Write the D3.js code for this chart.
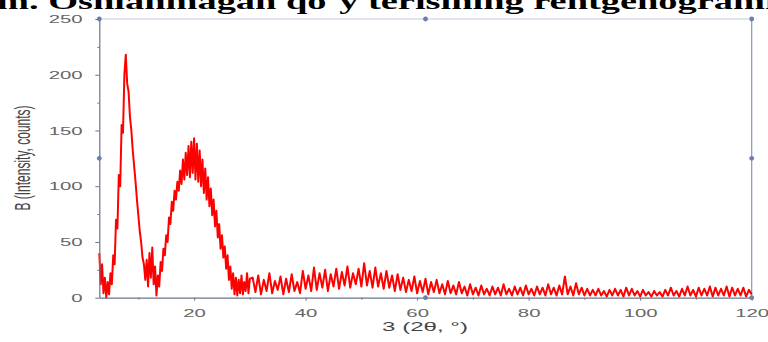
<!DOCTYPE html>
<html>
<head>
<meta charset="utf-8">
<script src="https://cdn.jsdelivr.net/npm/d3@7"></script>
<style>
  body { margin: 0; background: #fff; }
  svg { display: block; }
</style>
</head>
<body>
<svg id="chart" width="768" height="342"></svg>
<script>
// XRD pattern (2-theta in degrees, intensity in counts)
const peakAngles = [
  3, 3.25, 3.5, 3.75, 4, 4.25, 4.5, 4.75, 5, 5.25, 5.5, 5.75, 6, 6.25, 6.5, 6.75,
  7, 7.25, 7.5, 7.75, 8, 8.25, 8.5, 8.75, 9, 9.25, 9.5, 9.75, 10, 10.25, 10.5, 10.75,
  11, 11.25, 11.5, 11.75, 12, 12.25, 12.5, 12.75, 13, 13.25, 13.5, 13.75, 14, 14.25, 14.5, 14.75,
  15, 15.25, 15.5, 15.75, 16, 16.25, 16.5, 16.75, 17, 17.25, 17.5, 17.75, 18, 18.25, 18.5, 18.75,
  19, 19.25, 19.5, 19.75, 20, 20.25, 20.5, 20.75, 21, 21.25, 21.5, 21.75, 22, 22.25, 22.5, 22.75,
  23, 23.25, 23.5, 23.75, 24, 24.25, 24.5, 24.75, 25, 25.25, 25.5, 25.75, 26, 26.25, 26.5, 26.75,
  27, 27.25, 27.5, 27.75, 28, 28.25, 28.5, 28.75, 29, 29.25, 29.5, 29.75, 30
];
const peakCounts = [
  40, 12, 30, 4, 18, 0, 14, 3, 22, 12, 38, 30, 70, 62, 110, 100,
  155, 148, 200, 218, 192, 185, 162, 150, 132, 118, 104, 88, 74, 60, 50, 36,
  30, 16, 34, 10, 40, 18, 45, 12, 28, 2, 20, 10, 32, 24, 44, 38,
  56, 50, 72, 66, 86, 78, 96, 88, 104, 96, 114, 102, 124, 106, 130, 110,
  136, 108, 140, 112, 143, 106, 138, 104, 132, 100, 124, 94, 116, 88, 108, 82,
  98, 74, 88, 64, 78, 54, 66, 44, 56, 36, 46, 26, 38, 16, 28, 8,
  22, 3, 18, 2, 16, 4, 20, 3, 14, 6, 22, 4, 17
];
const tailAngles = [
  30.5, 31, 31.5, 32, 32.5, 33, 33.5, 34, 34.5, 35, 35.5, 36, 36.5, 37, 37.5, 38, 38.5, 39, 39.5, 40,
  40.5, 41, 41.5, 42, 42.5, 43, 43.5, 44, 44.5, 45, 45.5, 46, 46.5, 47, 47.5, 48, 48.5, 49, 49.5, 50,
  50.5, 51, 51.5, 52, 52.5, 53, 53.5, 54, 54.5, 55, 55.5, 56, 56.5, 57, 57.5, 58, 58.5, 59, 59.5, 60,
  60.5, 61, 61.5, 62, 62.5, 63, 63.5, 64, 64.5, 65, 65.5, 66, 66.5, 67, 67.5, 68, 68.5, 69, 69.5, 70,
  70.5, 71, 71.5, 72, 72.5, 73, 73.5, 74, 74.5, 75, 75.5, 76, 76.5, 77, 77.5, 78, 78.5, 79, 79.5, 80,
  80.5, 81, 81.5, 82, 82.5, 83, 83.5, 84, 84.5, 85, 85.5, 86, 86.5, 87, 87.5, 88, 88.5, 89, 89.5, 90,
  90.5, 91, 91.5, 92, 92.5, 93, 93.5, 94, 94.5, 95, 95.5, 96, 96.5, 97, 97.5, 98, 98.5, 99, 99.5, 100,
  100.5, 101, 101.5, 102, 102.5, 103, 103.5, 104, 104.5, 105, 105.5, 106, 106.5, 107, 107.5, 108, 108.5, 109, 109.5, 110,
  110.5, 111, 111.5, 112, 112.5, 113, 113.5, 114, 114.5, 115, 115.5, 116, 116.5, 117, 117.5, 118, 118.5, 119, 119.5, 120
];
const tailCounts = [
  18, 5, 20, 3, 16, 6, 22, 4, 15, 7, 19, 3, 17, 5, 21, 6, 14, 4, 24, 8,
  20, 6, 27, 7, 22, 9, 25, 6, 21, 10, 26, 8, 23, 11, 28, 9, 22, 12, 26, 10,
  31, 11, 24, 9, 27, 10, 22, 8, 24, 9, 20, 6, 21, 7, 18, 5, 16, 6, 19, 4,
  15, 5, 17, 3, 14, 5, 16, 4, 12, 3, 15, 4, 11, 3, 14, 4, 10, 2, 12, 3,
  9, 2, 11, 3, 8, 2, 10, 3, 9, 2, 12, 3, 8, 2, 10, 3, 9, 2, 11, 3,
  8, 2, 10, 3, 9, 2, 12, 3, 9, 2, 11, 3, 19, 3, 10, 2, 13, 3, 9, 2,
  8, 2, 7, 2, 8, 2, 6, 1, 7, 2, 8, 2, 7, 1, 9, 2, 8, 2, 6, 1,
  7, 2, 5, 1, 6, 2, 5, 1, 7, 2, 9, 2, 6, 1, 8, 2, 10, 2, 7, 1,
  9, 2, 8, 2, 10, 1, 9, 2, 8, 2, 10, 1, 9, 2, 8, 2, 9, 1, 7, 3
];

const xTicks = [20, 40, 60, 80, 100, 120];
const xMinor = [10, 30, 50, 70, 90, 110];
const yTicks = [0, 50, 100, 150, 200, 250];
const yMinor = [25, 75, 125, 175, 225];

const titleText = 'm. Oshlanmagan qo`y terisining rentgenogrammasi';
const xLabel = '3 (2θ, °)';
const yLabel = 'B (Intensity, counts)';

const stretch = 1.85; // picture is squashed sideways, text looks wide

const svg = d3.select('#chart');
const x = d3.scaleLinear().domain([3, 120]).range([99.3, 751.7]);
const y = d3.scaleLinear().domain([0, 250]).range([297.7, 19]);

const points = peakAngles.map((a, i) => [a, peakCounts[i]])
  .concat(tailAngles.map((a, i) => [a, tailCounts[i]]));

// title cut off at the top
svg.append('text')
  .attr('transform', `translate(-3,9) scale(1.6,1)`)
  .style('font-family', '"Liberation Serif", "Times New Roman", serif')
  .style('font-weight', 'bold')
  .style('font-size', '24px')
  .attr('fill', '#000')
  .text(titleText);

// frame (top + right) with handles
const frame = '#8a96bb';
svg.append('line').attr('x1', x(3)).attr('x2', x(120)).attr('y1', y(250)).attr('y2', y(250))
  .attr('stroke', '#d3dbee').attr('stroke-width', 1.5);
svg.append('line').attr('x1', x(120)).attr('x2', x(120)).attr('y1', y(250)).attr('y2', y(0))
  .attr('stroke', frame).attr('stroke-width', 1.2);

// data
svg.append('path')
  .datum(points)
  .attr('fill', 'none')
  .attr('stroke', '#ff0000')
  .attr('stroke-width', 2)
  .attr('stroke-linejoin', 'round')
  .attr('d', d3.line().x(d => x(d[0])).y(d => y(d[1])));

const axisColor = '#6b7488';
const styleAxis = g => {
  g.select('.domain').attr('stroke', axisColor).attr('stroke-width', 1.2);
  g.selectAll('.tick line').attr('stroke', axisColor);
  g.selectAll('.tick text')
    .attr('fill', '#666')
    .style('font-family', '"Liberation Sans", Arial, sans-serif')
    .style('font-size', '11px');
};

// x axis
const xAxis = svg.append('g').attr('transform', `translate(0,${y(0)})`)
  .call(d3.axisBottom(x).tickValues(xTicks).tickSize(3).tickSizeOuter(0).tickPadding(8));
styleAxis(xAxis);
xAxis.selectAll('.tick text').attr('transform', `scale(${stretch},1)`);
svg.append('g').attr('transform', `translate(0,${y(0)})`)
  .call(d3.axisBottom(x).tickValues(xMinor).tickSize(2).tickFormat('').tickSizeOuter(0))
  .call(g => { g.select('.domain').remove(); g.selectAll('line').attr('stroke', axisColor); });

// y axis
const yAxis = svg.append('g').attr('transform', `translate(${x(3)},0)`)
  .call(d3.axisLeft(y).tickValues(yTicks).tickSize(4).tickSizeOuter(0).tickPadding(5));
styleAxis(yAxis);
yAxis.selectAll('.tick text').attr('transform', `scale(${stretch},1)`);
svg.append('g').attr('transform', `translate(${x(3)},0)`)
  .call(d3.axisLeft(y).tickValues(yMinor).tickSize(2).tickFormat('').tickSizeOuter(0))
  .call(g => { g.select('.domain').remove(); g.selectAll('line').attr('stroke', axisColor); });

// handles on the layer frame
const handles = [[3, 250], [61.5, 250], [120, 250], [3, 125], [120, 125], [61.5, 0], [120, 0]];
svg.selectAll('circle.handle').data(handles).enter().append('circle')
  .attr('class', 'handle')
  .attr('cx', d => x(d[0])).attr('cy', d => y(d[1])).attr('r', 2.4)
  .attr('fill', '#6d7db0');

// axis titles
svg.append('text')
  .attr('transform', `translate(425,331) scale(${stretch},1)`)
  .attr('text-anchor', 'middle')
  .style('font-family', '"Liberation Sans", Arial, sans-serif')
  .style('font-size', '13px')
  .attr('fill', '#444')
  .text(xLabel);

svg.append('text')
  .attr('transform', `translate(30,158) scale(${stretch},1) rotate(-90)`)
  .attr('text-anchor', 'middle')
  .style('font-family', '"Liberation Sans", Arial, sans-serif')
  .style('font-size', '12px')
  .attr('fill', '#444')
  .text(yLabel);
</script>
</body>
</html>
